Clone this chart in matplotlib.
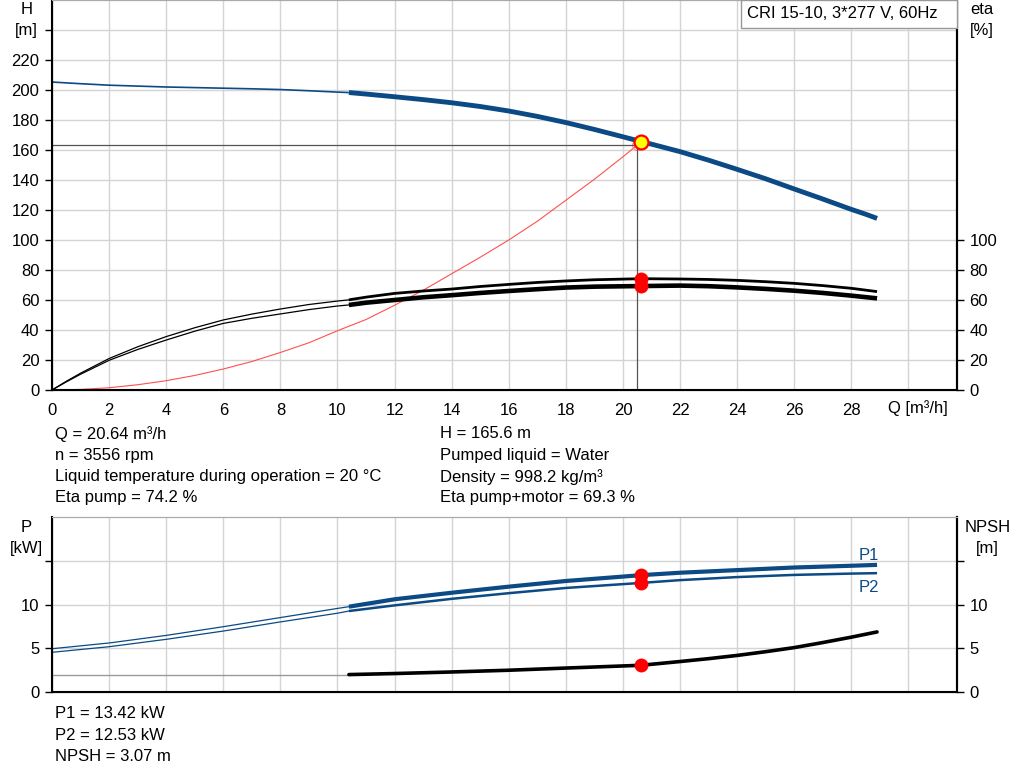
import matplotlib
matplotlib.use("Agg")
import matplotlib.pyplot as plt
from matplotlib.patches import Rectangle
import numpy as np

plt.rcParams['font.family'] = ['Liberation Sans', 'DejaVu Sans']
plt.rcParams['font.size'] = 12

BLUE = '#0b4a85'
GRID = '#d4d4d4'

# ---- data ----
q_split = 10.4  # below this the curves are drawn thin

q_h = [0, 1, 2, 3, 4, 5, 6, 7, 8, 9, 10, 10.4, 11, 12, 13, 14, 15, 16, 17, 18, 19,
       20, 20.64, 21, 22, 23, 24, 25, 26, 27, 28, 28.5, 28.9]
head = [205.3, 204.2, 203.2, 202.6, 202.0, 201.6, 201.2, 200.8, 200.3, 199.5, 198.6,
        198.3, 197.3, 195.5, 193.6, 191.5, 189.0, 186.0, 182.4, 178.3, 173.7,
        168.8, 165.6, 163.9, 158.9, 153.2, 147.1, 140.8, 134.0, 127.3, 120.4, 117.2, 114.4]

q_sys = [0, 1, 2, 3, 4, 5, 6, 7, 8, 9, 10, 11, 12, 13, 14, 15, 16, 17, 18, 19, 20, 20.5]
h_sys = [0, 0.4, 1.5, 3.5, 6.2, 9.7, 14.0, 19.0, 25.0, 31.5, 39.5, 47.0, 56.5, 66.5,
         77.5, 88.5, 100.0, 112.5, 126.5, 140.5, 155.5, 163.3]

q_eta = [0, 0.5, 1, 2, 3, 4, 5, 6, 7, 8, 9, 10, 10.4, 11, 12, 13, 14, 15, 16, 17, 18,
         19, 20.64, 22, 23, 24, 25, 26, 27, 28, 28.9]
eta_pump = [0, 5.8, 11.2, 21.0, 28.8, 35.6, 41.5, 46.7, 50.6, 54.0, 57.0, 59.3, 60.1,
            61.9, 64.4, 66.0, 67.3, 69.0, 70.4, 71.7, 72.7, 73.5, 74.2,
            74.0, 73.7, 73.1, 72.2, 71.1, 69.6, 67.8, 65.6]
eta_total = [0, 5.4, 10.5, 19.8, 27.0, 33.3, 39.2, 44.4, 47.8, 50.7, 53.6, 56.0, 56.7,
             58.2, 60.0, 61.8, 63.2, 64.7, 66.0, 67.2, 68.3, 68.9, 69.3,
             69.6, 69.2, 68.4, 67.4, 66.2, 64.7, 62.9, 61.1]

q_p = [0, 2, 4, 6, 8, 10, 10.4, 12, 14, 16, 18, 20.64, 22, 24, 26, 28, 28.9]
p1 = [4.97, 5.63, 6.5, 7.5, 8.55, 9.6, 9.8, 10.65, 11.4, 12.1, 12.75, 13.42,
      13.7, 14.0, 14.3, 14.5, 14.6]
p2 = [4.56, 5.2, 6.05, 7.0, 8.05, 9.05, 9.3, 9.95, 10.7, 11.35, 11.95, 12.53,
      12.85, 13.2, 13.45, 13.6, 13.65]

q_npsh = [0, 10.4, 12, 14, 16, 18, 20.64, 22, 23, 24, 25, 26, 27, 28, 28.9]
npsh = [2.0, 2.0, 2.12, 2.3, 2.5, 2.75, 3.07, 3.5, 3.83, 4.2, 4.63, 5.1, 5.68, 6.3, 6.9]

duty_q, duty_h = 20.5, 163.3
op_q, op_h = 20.64, 165.6
op_eta = [74.2, 69.3]
op_p = [13.42, 12.53]
op_npsh = 3.07

title = "CRI 15-10, 3*277 V, 60Hz"
info_left = ["Q = 20.64 m³/h", "n = 3556 rpm",
             "Liquid temperature during operation = 20 °C", "Eta pump = 74.2 %"]
info_right = ["H = 165.6 m", "Pumped liquid = Water",
              "Density = 998.2 kg/m³", "Eta pump+motor = 69.3 %"]
info_bottom = ["P1 = 13.42 kW", "P2 = 12.53 kW", "NPSH = 3.07 m"]


def split(q, v):
    q = np.asarray(q, float)
    v = np.asarray(v, float)
    lo = q <= q_split
    hi = q >= q_split
    return q[lo], v[lo], q[hi], v[hi]


def style(ax, yticks, labels):
    ax.set_xlim(0, 31.7)
    ax.set_xticks(np.arange(0, 31, 2))
    ax.set_xticklabels([str(v) for v in range(0, 29, 2)] + [''])
    ax.grid(True, color=GRID, lw=1)
    ax.set_axisbelow(True)
    ax.set_yticks(yticks)
    ax.set_yticklabels(labels)
    ax.tick_params(axis='y', length=5, width=1, pad=4, labelsize=12)
    ax.tick_params(axis='x', length=0, pad=9, labelsize=12)
    for s in ['left', 'bottom', 'right']:
        ax.spines[s].set_color('black')
        ax.spines[s].set_linewidth(1.5)
    ax.spines['top'].set_color('#aaaaaa')


def right_axis(ax, ylim, ticks, labels):
    r = ax.twinx()
    r.set_ylim(*ylim)
    r.set_yticks(ticks)
    r.set_yticklabels(labels)
    r.tick_params(axis='y', length=5, width=1, pad=4, labelsize=12)
    r.spines['right'].set_linewidth(1.5)
    r.spines['top'].set_color('#aaaaaa')
    return r


W, H = 1024, 781
fig = plt.figure(figsize=(W / 100, H / 100), dpi=100)

# ---------------- top chart ----------------
ax = fig.add_axes([52 / W, 1 - 390 / H, 905 / W, 390 / H])
ax.set_ylim(0, 260)
style(ax, np.arange(0, 241, 20), [str(v) for v in range(0, 221, 20)] + [''])
ax.yaxis.get_major_ticks()[-1].tick1line.set_visible(False)

a, b, c, d = split(q_h, head)
ax.plot(a, b, color=BLUE, lw=1.2, solid_capstyle='butt')
ax.plot(c, d, color=BLUE, lw=3.5, solid_capstyle='butt')
ax.plot(q_sys, h_sys, color='#ff5050', lw=0.8)
ax.plot([duty_q], [duty_h], 'o', ms=7, mfc='none', mec='#ff8080', mew=0.8)
ax.plot([0, duty_q], [duty_h, duty_h], color='#555555', lw=0.9)
ax.plot([duty_q, duty_q], [0, duty_h], color='#555555', lw=0.9)
ax.plot([op_q], [op_h], 'o', ms=10, mfc='#ffff00', mec='#ff0000', mew=1.6, zorder=6)

axe = right_axis(ax, (0, 260), np.arange(0, 101, 20), [str(v) for v in range(0, 101, 20)])
for e, lw in [(eta_pump, 2.0), (eta_total, 3.3)]:
    a, b, c, d = split(q_eta, e)
    axe.plot(a, b, color='black', lw=0.9)
    axe.plot(c, d, color='black', lw=lw, solid_capstyle='butt')
axe.plot([op_q] * 2, op_eta, 'o', ms=9, color='#ff0000', zorder=6)

ax.text(-0.028, 1 - 10 / 390, "H", transform=ax.transAxes, ha='center', va='center')
ax.text(-0.028, 1 - 30 / 390, "[m]", transform=ax.transAxes, ha='center', va='center')
ax.text(1.027, 1 - 10 / 390, "eta", transform=ax.transAxes, ha='center', va='center')
ax.text(1.027, 1 - 30 / 390, "[%]", transform=ax.transAxes, ha='center', va='center')
ax.text(918 / W, 1 - 408 / H, "Q [m³/h]", transform=fig.transFigure, ha='center', va='center')

# model label box in the top-right corner
axe.add_patch(Rectangle((741 / W, 1 - 28 / H), 216 / W, 28 / H, transform=fig.transFigure,
                        fc='white', ec='#999999', lw=1, zorder=9, clip_on=False))
axe.text(747 / W, 1 - 14 / H, title, transform=fig.transFigure, va='center', zorder=10)

for i, t in enumerate(info_left):
    fig.text(55 / W, 1 - (434 + 21.3 * i) / H, t, va='center')
for i, t in enumerate(info_right):
    fig.text(440 / W, 1 - (434 + 21.3 * i) / H, t, va='center')

# ---------------- bottom chart ----------------
bx = fig.add_axes([52 / W, 1 - 692 / H, 905 / W, 175 / H])
bx.set_ylim(0, 20.1)
style(bx, [0, 5, 10, 15], ['0', '5', '10', ''])
bx.set_xticklabels([])

for p, lw in [(p1, 3.0), (p2, 1.8)]:
    a, b, c, d = split(q_p, p)
    bx.plot(a, b, color=BLUE, lw=0.9)
    bx.plot(c, d, color=BLUE, lw=lw, solid_capstyle='butt')
bx.plot([op_q] * 2, op_p, 'o', ms=9, color='#ff0000', zorder=6)
bx.text(28.6, 15.7, "P1", color=BLUE, ha='center', va='center')
bx.text(28.6, 12.0, "P2", color=BLUE, ha='center', va='center')

bn = right_axis(bx, (0, 20.1), [0, 5, 10, 15], ['0', '5', '10', ''])
a, b, c, d = split(q_npsh, npsh)
bn.plot(a, b, color='#999999', lw=1.0)
bn.plot(c, d, color='black', lw=2.6, solid_capstyle='round')
bn.plot([op_q], [op_npsh], 'o', ms=9, color='#ff0000', zorder=6)

bx.text(-0.028, 1 - 10 / 175, "P", transform=bx.transAxes, ha='center', va='center')
bx.text(-0.028, 1 - 31 / 175, "[kW]", transform=bx.transAxes, ha='center', va='center')
bx.text(1.034, 1 - 10 / 175, "NPSH", transform=bx.transAxes, ha='center', va='center')
bx.text(1.034, 1 - 31 / 175, "[m]", transform=bx.transAxes, ha='center', va='center')

for i, t in enumerate(info_bottom):
    fig.text(55 / W, 1 - (714 + 21.3 * i) / H, t, va='center')

fig.savefig("out.png", dpi=100)
